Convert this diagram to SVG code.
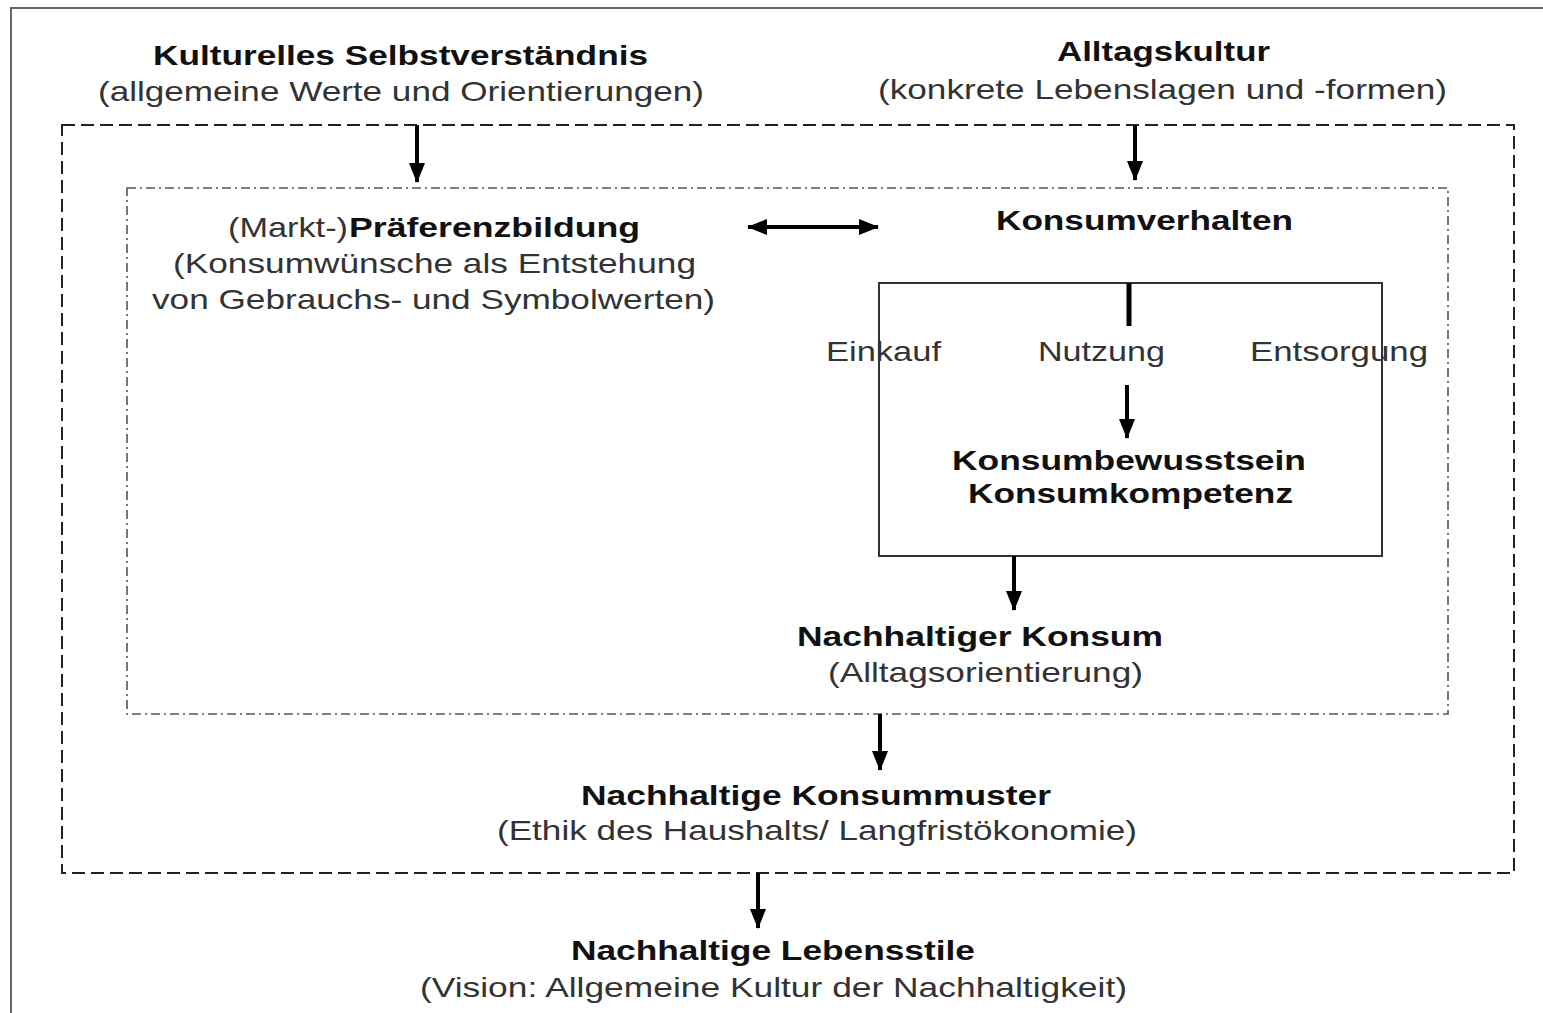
<svg xmlns="http://www.w3.org/2000/svg" width="1543" height="1013" viewBox="0 0 1543 1013">
<defs>
<marker id="ah" markerUnits="userSpaceOnUse" markerWidth="20" markerHeight="20" refX="19" refY="8" orient="auto-start-reverse" viewBox="0 0 20 16">
<path d="M0,0 L20,8 L0,16 Z" fill="#000"/>
</marker>
<style>
text{font-family:"Liberation Sans",Arial,sans-serif;font-size:28px}
.b{font-weight:bold;fill:#111}
.n{fill:#333}
.arr{stroke:#000;stroke-width:4;fill:none}
</style>
</defs>
<rect x="0" y="0" width="1543" height="1013" fill="#fff"/>
<rect x="11" y="8" width="1540" height="1020" fill="none" stroke="#666" stroke-width="2"/>
<g id="frame-outer"><rect x="62" y="125" width="1452" height="748" fill="none" stroke="#222" stroke-width="2" stroke-dasharray="13 6"/></g>
<g id="frame-inner"><rect x="127" y="188" width="1321" height="526" fill="none" stroke="#555" stroke-width="1.6" stroke-dasharray="9 4 2 4"/></g>
<g id="box-konsum"><rect x="879" y="283" width="503" height="273" fill="none" stroke="#333" stroke-width="2"/></g>

<g id="n-kultur">
<text class="b" x="153" y="65" textLength="495" lengthAdjust="spacingAndGlyphs">Kulturelles Selbstverständnis</text>
<text class="n" x="98" y="101" textLength="606" lengthAdjust="spacingAndGlyphs">(allgemeine Werte und Orientierungen)</text>
</g>
<g id="n-alltag">
<text class="b" x="1057" y="61" textLength="213" lengthAdjust="spacingAndGlyphs">Alltagskultur</text>
<text class="n" x="878" y="99" textLength="569" lengthAdjust="spacingAndGlyphs">(konkrete Lebenslagen und -formen)</text>
</g>
<g id="n-praeferenz">
<text class="n" x="228" y="237" textLength="120" lengthAdjust="spacingAndGlyphs">(Markt-)</text>
<text class="b" x="349" y="237" textLength="291" lengthAdjust="spacingAndGlyphs">Präferenzbildung</text>
<text class="n" x="173" y="273" textLength="523" lengthAdjust="spacingAndGlyphs">(Konsumwünsche als Entstehung</text>
<text class="n" x="152" y="309" textLength="563" lengthAdjust="spacingAndGlyphs">von Gebrauchs- und Symbolwerten)</text>
</g>
<g id="n-verhalten">
<text class="b" x="996" y="230" textLength="297" lengthAdjust="spacingAndGlyphs">Konsumverhalten</text>
</g>
<g id="n-phasen">
<text class="n" x="826" y="361" textLength="115" lengthAdjust="spacingAndGlyphs">Einkauf</text>
<text class="n" x="1038" y="361" textLength="127" lengthAdjust="spacingAndGlyphs">Nutzung</text>
<text class="n" x="1250" y="361" textLength="178" lengthAdjust="spacingAndGlyphs">Entsorgung</text>
</g>
<g id="n-bewusstsein">
<text class="b" x="952" y="470" textLength="354" lengthAdjust="spacingAndGlyphs">Konsumbewusstsein</text>
<text class="b" x="968" y="503" textLength="325" lengthAdjust="spacingAndGlyphs">Konsumkompetenz</text>
</g>
<g id="n-nachhaltiger-konsum">
<text class="b" x="797" y="646" textLength="366" lengthAdjust="spacingAndGlyphs">Nachhaltiger Konsum</text>
<text class="n" x="828" y="682" textLength="315" lengthAdjust="spacingAndGlyphs">(Alltagsorientierung)</text>
</g>
<g id="n-konsummuster">
<text class="b" x="581" y="805" textLength="470" lengthAdjust="spacingAndGlyphs">Nachhaltige Konsummuster</text>
<text class="n" x="497" y="840" textLength="640" lengthAdjust="spacingAndGlyphs">(Ethik des Haushalts/ Langfristökonomie)</text>
</g>
<g id="n-lebensstile">
<text class="b" x="571" y="960" textLength="404" lengthAdjust="spacingAndGlyphs">Nachhaltige Lebensstile</text>
<text class="n" x="420" y="997" textLength="707" lengthAdjust="spacingAndGlyphs">(Vision: Allgemeine Kultur der Nachhaltigkeit)</text>
</g>

<g id="connectors">
<line class="arr" x1="417" y1="125" x2="417" y2="182" marker-end="url(#ah)"/>
<line class="arr" x1="1135" y1="125" x2="1135" y2="180" marker-end="url(#ah)"/>
<line class="arr" x1="748" y1="227" x2="878" y2="227" marker-start="url(#ah)" marker-end="url(#ah)"/>
<line x1="1129" y1="283" x2="1129" y2="326" stroke="#000" stroke-width="5"/>
<line class="arr" x1="1127" y1="385" x2="1127" y2="438" marker-end="url(#ah)"/>
<line class="arr" x1="1014" y1="556" x2="1014" y2="610" marker-end="url(#ah)"/>
<line class="arr" x1="880" y1="714" x2="880" y2="770" marker-end="url(#ah)"/>
<line class="arr" x1="758" y1="873" x2="758" y2="928" marker-end="url(#ah)"/>
</g>
</svg>
